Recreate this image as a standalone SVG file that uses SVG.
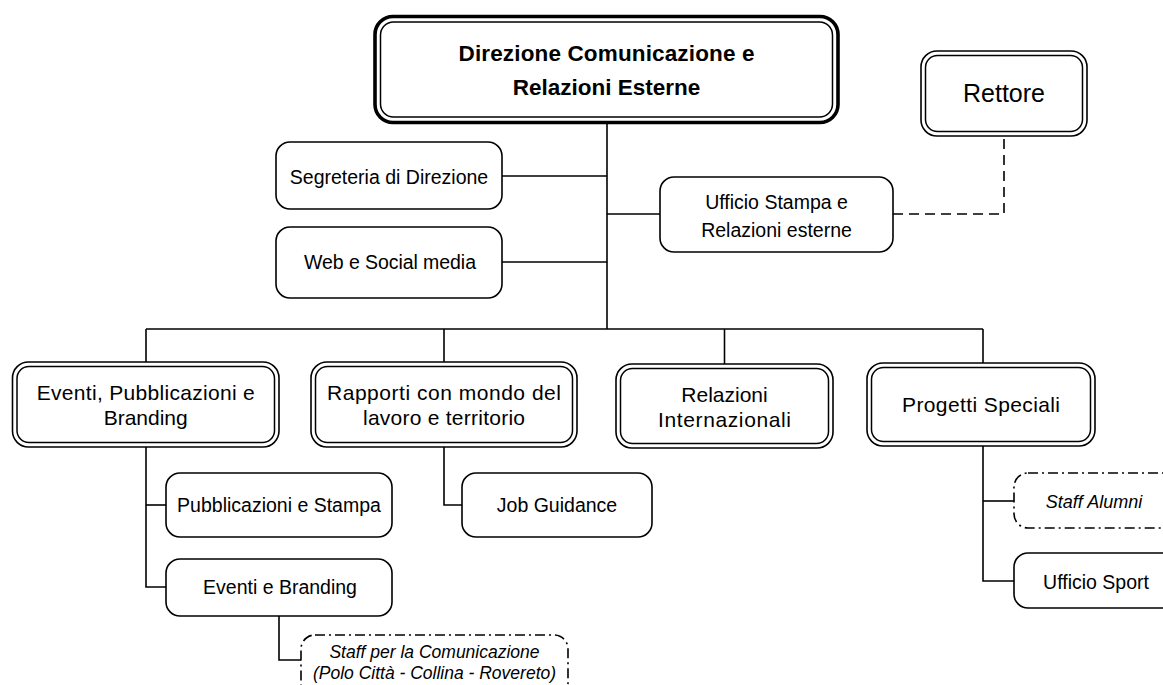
<svg xmlns="http://www.w3.org/2000/svg" width="1163" height="685" viewBox="0 0 1163 685">
<style>
.bg{fill:#fff}
.box{fill:#fff;stroke:#000;stroke-width:1.6}
.thin{fill:none;stroke:#000;stroke-width:1.5}
.thick{fill:#fff;stroke:#000;stroke-width:3.6}
.dd{fill:#fff;stroke:#000;stroke-width:1.6;stroke-dasharray:10 4 2 4}
.conn{fill:none;stroke:#000;stroke-width:1.6}
.dash{fill:none;stroke:#000;stroke-width:1.6;stroke-dasharray:10 6}
text{font-family:"Liberation Sans",Arial,sans-serif;fill:#000;text-anchor:middle}
.t3{font-size:19.5px}
.t2{font-size:21px}
.tt{font-size:22.5px;font-weight:bold}
.tr{font-size:25px}
.it{font-style:italic}
</style>
<rect class="bg" x="0" y="0" width="1163" height="685"/>
<g id="connectors">
<path class="conn" d="M607 123 V329"/>
<path class="conn" d="M502 176 H607"/>
<path class="conn" d="M502 262 H607"/>
<path class="conn" d="M607 214 H660"/>
<path class="conn" d="M146 329 H983"/>
<path class="conn" d="M146 329 V362"/>
<path class="conn" d="M444 329 V362"/>
<path class="conn" d="M724.5 329 V364"/>
<path class="conn" d="M983 329 V363"/>
<path class="conn" d="M146 447 V587 H166"/>
<path class="conn" d="M146 505 H166"/>
<path class="conn" d="M444 447 V505 H462"/>
<path class="conn" d="M983 446 V581 H1014"/>
<path class="conn" d="M983 501 H1014"/>
<path class="conn" d="M279 616 V660 H301"/>
<path class="dash" d="M893 214 H1004 V136"/>
</g>
<g id="direzione">
<rect class="thick" x="375" y="16.5" width="463" height="106" rx="18"/>
<rect class="thin" x="380.5" y="22" width="452" height="95" rx="13"/>
<text class="tt" x="606.5" y="61" textLength="296">Direzione Comunicazione e</text>
<text class="tt" x="606.5" y="95">Relazioni Esterne</text>
</g>
<g id="rettore">
<rect class="box" x="921" y="51" width="166" height="85" rx="16"/>
<rect class="thin" x="925.5" y="55.5" width="157" height="76" rx="12"/>
<text class="tr" x="1004" y="102">Rettore</text>
</g>
<g id="segreteria">
<rect class="box" x="276" y="142" width="226" height="67" rx="14"/>
<text class="t3" x="389" y="184">Segreteria di Direzione</text>
</g>
<g id="web">
<rect class="box" x="276" y="227" width="226" height="71" rx="14"/>
<text class="t3" x="390" y="269" textLength="172">Web e Social media</text>
</g>
<g id="ufficio-stampa">
<rect class="box" x="660" y="177" width="233" height="75" rx="14"/>
<text class="t3" x="776.5" y="209">Ufficio Stampa e</text>
<text class="t3" x="776.5" y="237">Relazioni esterne</text>
</g>
<g id="eventi">
<rect class="box" x="12.5" y="362" width="266.5" height="85" rx="16"/>
<rect class="thin" x="17" y="366.5" width="257.5" height="76" rx="12"/>
<text class="t2" x="145.7" y="400" textLength="218">Eventi, Pubblicazioni e</text>
<text class="t2" x="145.7" y="425">Branding</text>
</g>
<g id="rapporti">
<rect class="box" x="311" y="362" width="266" height="85" rx="16"/>
<rect class="thin" x="315.5" y="366.5" width="257" height="76" rx="12"/>
<text class="t2" x="444" y="400" textLength="234">Rapporti con mondo del</text>
<text class="t2" x="444" y="425" textLength="162">lavoro e territorio</text>
</g>
<g id="relazioni-internazionali">
<rect class="box" x="616" y="364" width="217" height="84" rx="16"/>
<rect class="thin" x="620.5" y="368.5" width="208" height="75" rx="12"/>
<text class="t2" x="724.5" y="402">Relazioni</text>
<text class="t2" x="724.5" y="427" textLength="133">Internazionali</text>
</g>
<g id="progetti">
<rect class="box" x="867" y="363" width="228" height="83" rx="16"/>
<rect class="thin" x="871.5" y="367.5" width="219" height="74" rx="12"/>
<text class="t2" x="981" y="412" textLength="158">Progetti Speciali</text>
</g>
<g id="pubblicazioni">
<rect class="box" x="166" y="473" width="226" height="64" rx="14"/>
<text class="t3" x="279" y="512">Pubblicazioni e Stampa</text>
</g>
<g id="eventi-branding">
<rect class="box" x="166" y="559" width="226" height="57" rx="14"/>
<text class="t3" x="280" y="594">Eventi e Branding</text>
</g>
<g id="job-guidance">
<rect class="box" x="462" y="473" width="190" height="64" rx="14"/>
<text class="t3" x="557" y="512">Job Guidance</text>
</g>
<g id="staff-comunicazione">
<rect class="dd" x="301" y="635" width="267" height="62" rx="14"/>
<text class="it" style="font-size:17.5px" x="434.5" y="658">Staff per la Comunicazione</text>
<text class="it" style="font-size:17.5px" x="434.5" y="679">(Polo Città - Collina - Rovereto)</text>
</g>
<g id="staff-alumni">
<rect class="dd" x="1014" y="473" width="166" height="55" rx="14"/>
<text class="it" style="font-size:18px" x="1094" y="508">Staff Alumni</text>
</g>
<g id="ufficio-sport">
<rect class="box" x="1014" y="553" width="166" height="55" rx="14"/>
<text class="t3" x="1096" y="589">Ufficio Sport</text>
</g>
</svg>
